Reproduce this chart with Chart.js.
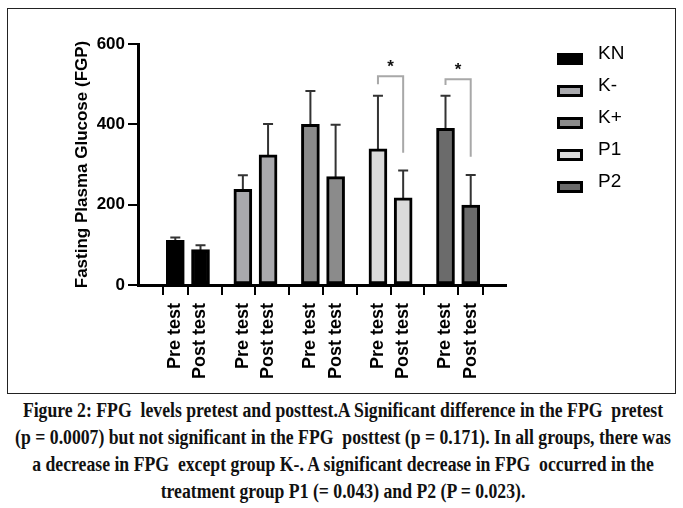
<!DOCTYPE html>
<html>
<head>
<meta charset="utf-8">
<script src="https://cdn.jsdelivr.net/npm/chart.js@4.4.1/dist/chart.umd.min.js"></script>
<style>
  body { margin: 0; background: #fff; }
  #page { position: relative; width: 683px; height: 508px; overflow: hidden; }
  #graph { position: absolute; left: 0; top: 0; }
  #frame { position: absolute; left: 7px; top: 8px; width: 667px; height: 384px; border: 1.5px solid #222; }
  .legend-item { position: absolute; left: 557px; font: 19px "Liberation Sans", Arial, sans-serif; color: #000; }
  .legend-color { position: absolute; left: 0; width: 26px; height: 12px; box-sizing: border-box; border: 3px solid #000; }
  .legend-text { position: absolute; left: 41px; top: -11px; white-space: nowrap; }
  #caption { position: absolute; left: -57px; top: 397px; width: 800px; text-align: center;
             font: bold 20px "Liberation Serif", "Times New Roman", serif; color: #111; line-height: 27px; }
  #caption div { white-space: nowrap; transform: scaleX(0.885); transform-origin: center; }
</style>
</head>
<body>
<div id="page">
  <div id="frame"></div>
  <canvas id="graph" width="683" height="395"></canvas>
  <div id="legendContainer"></div>
  <div id="caption">
    <div>Figure 2: FPG&nbsp; levels pretest and posttest.A Significant difference in the FPG&nbsp; pretest</div>
    <div>(p = 0.0007) but not significant in the FPG&nbsp; posttest (p = 0.171). In all groups, there was</div>
    <div>a decrease in FPG&nbsp; except group K-. A significant decrease in FPG&nbsp; occurred in the</div>
    <div>treatment group P1 (= 0.043) and P2 (P = 0.023).</div>
  </div>
</div>
<script>
// données
const groups = ['KN', 'K-', 'K+', 'P1', 'P2'];
const phases = ['Pre test', 'Post test'];
const preMean = [111, 238, 400, 339, 390];
const postMean = [88, 324, 270, 217, 199];
const preSD = [7, 35, 83, 132, 81];
const postSD = [11, 77, 129, 68, 75];
const yTicks = [0, 200, 400, 600];
const groupColors = ['#000000', '#a9a9ad', '#8b8b8b', '#dadada', '#6b6b6b'];
// crochets de significativité : groupe, hauteur du crochet, fin jambe gauche, fin jambe droite
const sigGroups = [3, 4];
const sigTop = [520, 512];
const sigLeftEnd = [500, 498];
const sigRightEnd = [329, 319];

const FONT = '"Liberation Sans", Arial, sans-serif';
const groupStep = 2.68; // écart entre deux groupes (en largeur de barre)

const tickPos = [];
const tickLabels = [];
groups.forEach((g, i) => {
    phases.forEach((p, j) => {
        tickPos.push(i * groupStep + j);
        tickLabels.push(p);
    });
});

const datasets = groups.map((g, i) => ({
    label: g,
    data: [
        {x: i * groupStep, y: preMean[i]},
        {x: i * groupStep + 1, y: postMean[i]}
    ],
    sd: [preSD[i], postSD[i]],
    backgroundColor: groupColors[i],
    borderColor: '#000',
    borderWidth: 3,
    borderSkipped: false,
    barThickness: 18,
    grouped: false
}));

// barres d'erreur (vers le haut uniquement)
const errorBars = {
    id: 'errorBars',
    beforeDatasetsDraw(chart) {
        const ctx = chart.ctx;
        const y = chart.scales.y;
        ctx.save();
        ctx.strokeStyle = '#333';
        ctx.lineWidth = 2;
        chart.data.datasets.forEach((ds, i) => {
            const meta = chart.getDatasetMeta(i);
            meta.data.forEach((bar, j) => {
                const top = y.getPixelForValue(ds.data[j].y + ds.sd[j]);
                ctx.beginPath();
                ctx.moveTo(bar.x, bar.y + 4);
                ctx.lineTo(bar.x, top);
                ctx.moveTo(bar.x - 5, top);
                ctx.lineTo(bar.x + 5, top);
                ctx.stroke();
            });
        });
        ctx.restore();
    }
};

// crochets + étoiles
const sigBrackets = {
    id: 'sigBrackets',
    afterDatasetsDraw(chart) {
        const ctx = chart.ctx;
        const x = chart.scales.x;
        const y = chart.scales.y;
        ctx.save();
        ctx.strokeStyle = '#a8a8a8';
        ctx.lineWidth = 2;
        sigGroups.forEach((g, k) => {
            const x1 = x.getPixelForValue(g * groupStep);
            const x2 = x.getPixelForValue(g * groupStep + 1);
            const yt = y.getPixelForValue(sigTop[k]);
            ctx.beginPath();
            ctx.moveTo(x1, y.getPixelForValue(sigLeftEnd[k]));
            ctx.lineTo(x1, yt);
            ctx.lineTo(x2, yt);
            ctx.lineTo(x2, y.getPixelForValue(sigRightEnd[k]));
            ctx.stroke();
            ctx.fillStyle = '#111';
            ctx.font = 'bold 17px ' + FONT;
            ctx.textAlign = 'center';
            ctx.textBaseline = 'middle';
            ctx.fillText('*', (x1 + x2) / 2, yt - 9);
        });
        ctx.restore();
    }
};

new Chart(document.getElementById('graph'), {
    type: 'bar',
    data: {datasets: datasets},
    options: {
        responsive: false,
        animation: false,
        layout: {padding: {top: 44, left: 0, right: 177, bottom: 10}},
        plugins: {legend: {display: false}, tooltip: {enabled: false}},
        scales: {
            x: {
                type: 'linear',
                min: -0.75,
                max: 12.39,
                afterBuildTicks: scale => { scale.ticks = tickPos.map(v => ({value: v})); },
                afterFit: scale => { scale.height = 100; },
                ticks: {
                    autoSkip: false,
                    minRotation: 90,
                    maxRotation: 90,
                    padding: 8,
                    color: '#000',
                    font: {family: FONT, size: 18, weight: 'bold'},
                    callback: (v, i) => tickLabels[i]
                },
                grid: {drawOnChartArea: false, drawTicks: true, tickLength: 10, color: '#000', lineWidth: 2},
                border: {display: true, color: '#000', width: 3}
            },
            y: {
                min: 0,
                max: 600,
                afterBuildTicks: scale => { scale.ticks = yTicks.map(v => ({value: v})); },
                afterFit: scale => { scale.width = 138; },
                ticks: {
                    padding: 3,
                    color: '#000',
                    font: {family: FONT, size: 17, weight: 'bold'}
                },
                grid: {drawOnChartArea: false, drawTicks: true, tickLength: 10, color: '#000', lineWidth: 2},
                border: {display: true, color: '#000', width: 3},
                title: {
                    display: true,
                    text: 'Fasting Plasma Glucose (FGP)',
                    color: '#000',
                    padding: {top: 72, bottom: 0},
                    font: {family: FONT, size: 17, weight: 'bold'}
                }
            }
        }
    },
    plugins: [errorBars, sigBrackets]
});

// légende à droite
const legendContainer = document.getElementById('legendContainer');
groups.forEach((g, i) => {
    const item = document.createElement('div');
    item.className = 'legend-item';
    item.style.top = (53 + i * 32) + 'px';
    item.innerHTML = `<span class="legend-color" style="background-color: ${groupColors[i]};"></span><span class="legend-text">${g}</span>`;
    legendContainer.appendChild(item);
});
</script>
</body>
</html>
